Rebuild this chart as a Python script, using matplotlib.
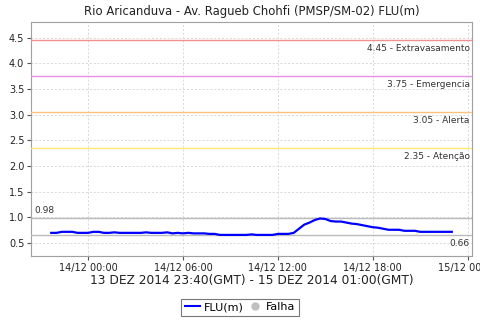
import numpy as np
import pandas as pd
import matplotlib
matplotlib.use("Agg")
import matplotlib.pyplot as plt
import matplotlib.dates as mdates
from matplotlib.lines import Line2D

# leituras a cada 20 min (hora local), de 13/12 21:40 a 14/12 23:00
inicio = "2014-12-13 21:40"
flu = [0.70, 0.70, 0.72, 0.72, 0.72, 0.70, 0.70,
       0.70, 0.72, 0.72, 0.70, 0.70, 0.71, 0.70, 0.70, 0.70,
       0.70, 0.70, 0.71, 0.70, 0.70, 0.70, 0.71, 0.69, 0.70,
       0.69, 0.70, 0.69, 0.69, 0.69, 0.68, 0.68, 0.66, 0.66,
       0.66, 0.66, 0.66, 0.66, 0.67, 0.66, 0.66, 0.66, 0.66,
       0.68, 0.68, 0.68, 0.70, 0.78, 0.86, 0.90, 0.95, 0.98,
       0.97, 0.93, 0.92, 0.92, 0.90, 0.88, 0.87, 0.85, 0.83,
       0.81, 0.80, 0.78, 0.76, 0.76, 0.76, 0.74, 0.74, 0.74,
       0.72, 0.72, 0.72, 0.72, 0.72, 0.72, 0.72]
tempo = pd.date_range(inicio, periods=len(flu), freq="20min")

# cotas de alerta
cotas = [4.45, 3.75, 3.05, 2.35]
nomes = ["Extravasamento", "Emergencia", "Alerta", "Atenção"]
cores = ["#f09090", "#e890e8", "#ffc080", "#ffe878"]

fig = plt.figure(figsize=(4.8, 3.2), dpi=100)
ax = fig.add_axes([0.065, 0.2, 0.918, 0.731])

ax.plot(tempo, flu, color="#0000ff", lw=1.6, zorder=5)

for c, n, cor in zip(cotas, nomes, cores):
    ax.axhline(c, color=cor, lw=1, zorder=3)
    ax.text(0.995, c - 0.08, "%.2f - %s" % (c, n), transform=ax.get_yaxis_transform(),
            ha="right", va="top", fontsize=6.5, color="#333333")

vmax, vmin = max(flu), min(flu)
ax.axhline(vmax, color="#bbbbbb", lw=1, zorder=3)
ax.axhline(vmin, color="#bbbbbb", lw=1, zorder=3)
ax.text(0.008, vmax + 0.07, "%.2f" % vmax, transform=ax.get_yaxis_transform(),
        ha="left", va="bottom", fontsize=6.5, color="#333333")
ax.text(0.995, vmin - 0.07, "%.2f" % vmin, transform=ax.get_yaxis_transform(),
        ha="right", va="top", fontsize=6.5, color="#333333")

# margens de 5% no eixo do tempo
t0, t1 = mdates.date2num(tempo[0]), mdates.date2num(tempo[-1])
m = (t1 - t0) * 0.05
ax.set_xlim(t0 - m, t1 + m)
ax.set_ylim(0.25, 4.8)
ax.set_yticks(np.arange(0.5, 4.51, 0.5))
ax.yaxis.set_major_formatter(plt.FormatStrFormatter("%.1f"))
ax.xaxis.set_major_locator(mdates.HourLocator(byhour=[0, 6, 12, 18]))
ax.xaxis.set_major_formatter(mdates.DateFormatter("%d/%m %H:%M"))

ax.grid(True, color="#d8d8d8", ls=(0, (2, 2)), lw=0.7)
for s in ax.spines.values():
    s.set_color("#a0a0a0")
ax.tick_params(labelsize=7, colors="#555555", labelcolor="#222222", length=3, pad=2)

ax.set_title("Rio Aricanduva - Av. Ragueb Chohfi (PMSP/SM-02) FLU(m)", fontsize=8.4,
             color="#222222", pad=5)
ax.set_xlabel("13 DEZ 2014 23:40(GMT) - 15 DEZ 2014 01:00(GMT)", fontsize=8.8,
              color="#222222", labelpad=1)

h = [Line2D([], [], color="#0000ff", lw=1.5),
     Line2D([], [], color="#c0c0c0", marker="o", ls="", ms=5)]
leg = fig.legend(h, ["FLU(m)", "Falha"], loc="center", bbox_to_anchor=(0.5, 0.04),
                 ncol=2, fontsize=8, frameon=True, fancybox=False,
                 handlelength=1.4, handletextpad=0.3, columnspacing=0.3,
                 borderpad=0.3, borderaxespad=0)
leg.get_frame().set_edgecolor("#555555")
leg.get_frame().set_linewidth(0.8)

fig.savefig("out.png", dpi=100)
